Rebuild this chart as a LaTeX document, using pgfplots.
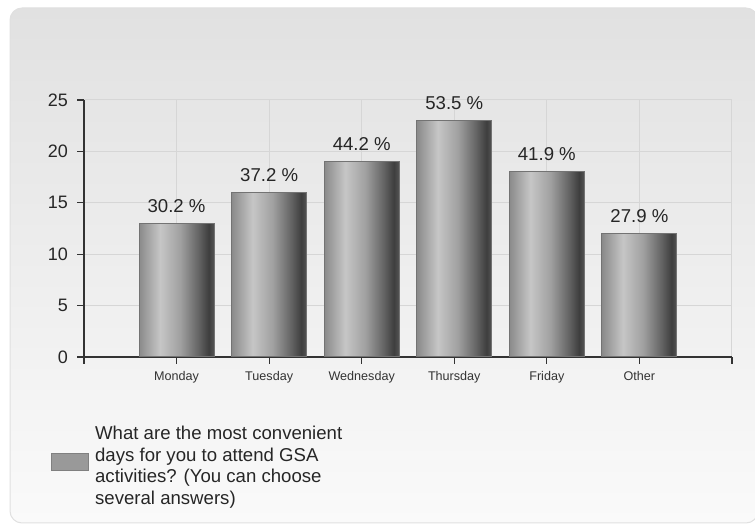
\documentclass[border=0pt]{standalone}
\usepackage{pgfplots}
\pgfplotsset{compat=1.18}
\usepackage{fontspec}
\setmainfont{Liberation Sans}
\definecolor{gridc}{HTML}{D6D6D6}
\definecolor{bgtop}{HTML}{E1E1E1}
\definecolor{bgbot}{HTML}{FAFAFA}
\definecolor{bc0}{HTML}{8A8A8A}
\definecolor{bc1}{HTML}{C6C6C6}
\definecolor{bc2}{HTML}{A0A0A0}
\definecolor{bc3}{HTML}{626262}
\definecolor{bc4}{HTML}{3E3E3E}
\definecolor{bc5}{HTML}{555555}
\pgfdeclarehorizontalshading{barshade}{100bp}{color(0bp)=(bc0); color(25bp)=(bc0); color(39bp)=(bc1); color(52.5bp)=(bc2); color(65bp)=(bc3); color(71.5bp)=(bc4); color(75bp)=(bc5); color(100bp)=(bc5)}
\begin{document}
\begin{tikzpicture}
\path[use as bounding box] (0,0) rectangle (377.5pt,264.5pt);
\shade[top color=bgtop, bottom color=bgbot, draw=white!88!black, rounded corners=6pt, line width=0.5pt] (5pt,3pt) rectangle (379pt,260.5pt);
\begin{axis}[
  at={(42pt,86pt)}, anchor=south west,
  scale only axis, width=324pt, height=128.5pt,
  xmin=-1, xmax=6, ymin=0, ymax=25,
  axis x line*=bottom, axis y line*=left,
  axis line style={draw=black!80, line width=0.6pt},
  xtick={-1,0,1,2,3,4,5,6},
  xticklabels={,Monday,Tuesday,Wednesday,Thursday,Friday,Other,},
  ytick={0,5,10,15,20,25},
  tick align=outside, major tick length=3.5pt,
  tick style={black!80, line width=0.6pt},
  xmajorgrids, ymajorgrids,
  grid style={draw=gridc, line width=0.5pt},
  /pgf/number format/assume math mode=true,
  yticklabel style={font=\fontsize{9}{10.8}\selectfont, text=black!85, xshift=-1pt},
  xticklabel style={font=\fontsize{6.3}{7.5}\selectfont, text=black!80},
  ybar, bar width=0.81,
  nodes near coords, point meta=explicit symbolic,
  every node near coord/.append style={font=\fontsize{9.3}{11}\selectfont, text=black!85, yshift=2pt},
  barstyle/.style={draw=black!55, line width=0.5pt, shading=barshade, bar shift=0pt, forget plot},
  legend cell align=left,
  legend style={at={(-0.051,-0.4066)}, anchor=west, draw=none, fill=none, inner sep=0pt,
    font=\fontsize{9.3}{10.8}\selectfont, text=black!85},
]
\addplot[barstyle] coordinates {(0,13) [30.2 \%]};
\addplot[barstyle] coordinates {(1,16) [37.2 \%]};
\addplot[barstyle] coordinates {(2,19) [44.2 \%]};
\addplot[barstyle] coordinates {(3,23) [53.5 \%]};
\addplot[barstyle] coordinates {(4,18) [41.9 \%]};
\addplot[barstyle] coordinates {(5,12) [27.9 \%]};
\addlegendimage{legend image code/.code={\draw[fill=black!40, draw=black!50, line width=0.4pt] (0pt,-4.25pt) rectangle (18.5pt,4.25pt);}}
\addlegendentry{\hspace*{1pt}\raisebox{11pt}{\parbox[c]{160pt}{\fontsize{9.3}{10.8}\selectfont What are the most convenient\\ days for you to attend GSA\\ activities? (You can choose\\ several answers)}}}
\end{axis}
\end{tikzpicture}
\end{document}
